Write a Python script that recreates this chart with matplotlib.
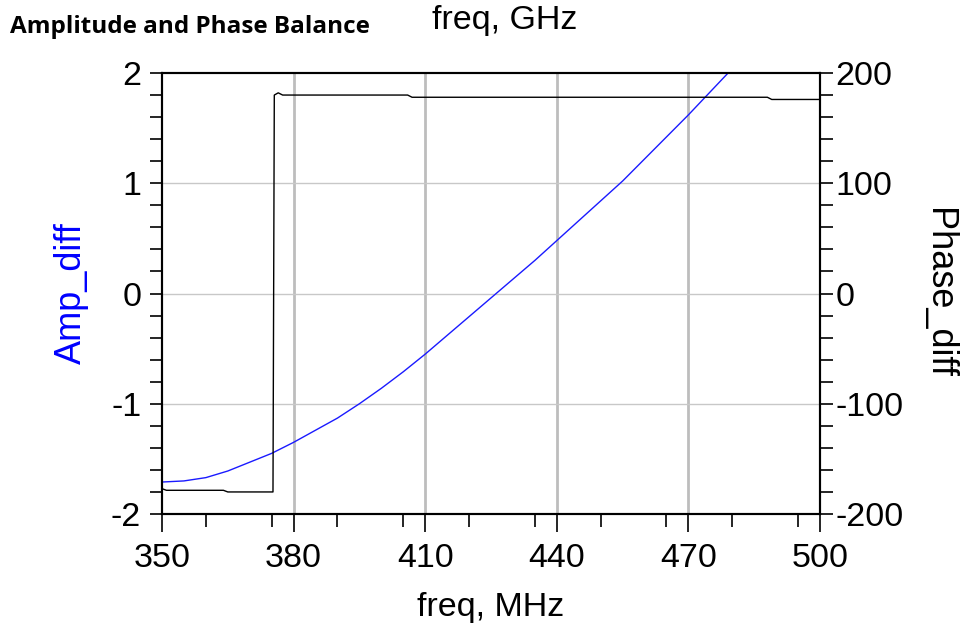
import matplotlib
matplotlib.use("Agg")
import matplotlib.pyplot as plt
from matplotlib.ticker import MultipleLocator

# Amplitude difference (blue, left axis)
amp_freq = [350, 355, 360, 365, 370, 375, 380, 385, 390, 395, 400, 405, 410,
            415, 420, 425, 430, 435, 440, 445, 450, 455, 460, 465, 470, 475, 480]
amp_diff = [-1.71, -1.70, -1.67, -1.61, -1.53, -1.45, -1.35, -1.24, -1.13, -1.00,
            -0.86, -0.71, -0.55, -0.38, -0.21, -0.04, 0.13, 0.30, 0.48, 0.66,
            0.84, 1.02, 1.22, 1.42, 1.62, 1.83, 2.04]

# Phase difference (black, right axis)
ph_freq = [350, 351, 364, 365, 375.3, 375.6, 376.5, 377.5, 406, 407, 488, 489, 500]
ph_diff = [-177, -178.5, -178.5, -180, -180, 180, 182, 180, 180, 178, 178, 176, 176]

x_ticks = [350, 380, 410, 440, 470, 500]
amp_ticks = [-2, -1, 0, 1, 2]
ph_ticks = [-200, -100, 0, 100, 200]

plt.rcParams['font.family'] = ['Liberation Sans', 'DejaVu Sans']

fig = plt.figure(figsize=(9.66, 6.27), dpi=100)
ax = fig.add_axes([162/966, 1-514/627, (820-162)/966, (514-73)/627])
ax2 = ax.twinx()

FS = 24.5
ax.set_xlim(350, 500)
ax.set_ylim(-2, 2)
ax2.set_ylim(-200, 200)

ax.set_xticks(x_ticks)
ax.set_yticks(amp_ticks)
ax2.set_yticks(ph_ticks)
ax.xaxis.set_minor_locator(MultipleLocator(15))
ax.yaxis.set_minor_locator(MultipleLocator(0.2))
ax2.yaxis.set_minor_locator(MultipleLocator(20))

ax.set_xticklabels([str(v) for v in x_ticks], fontsize=FS)
ax.set_yticklabels([str(v) for v in amp_ticks], fontsize=FS)
ax2.set_yticklabels([str(v) for v in ph_ticks], fontsize=FS)

ax.tick_params(axis='x', which='major', direction='out', length=13, width=1.2, pad=8)
ax.tick_params(axis='x', which='minor', direction='out', length=9, width=1.2)
ax.tick_params(axis='y', which='both', direction='out', length=9, width=1.2, pad=6)
ax2.tick_params(axis='y', which='both', direction='out', length=9, width=1.2, pad=2)

for a in (ax, ax2):
    for s in a.spines.values():
        s.set_linewidth(1.5)
        s.set_color('black')

# grid
for xv in x_ticks[1:-1]:
    ax.axvline(xv, color='#bdbdbd', lw=2.0, zorder=0)
for yv in amp_ticks[1:-1]:
    ax.axhline(yv, color='#c8c8c8', lw=1.0, zorder=0)

ax.plot(amp_freq, amp_diff, color='#1a1aff', lw=1.0, zorder=3, clip_on=True)
ax2.plot(ph_freq, ph_diff, color='black', lw=1.0, zorder=3)

ax.set_ylabel('Amp_diff', color='blue', fontsize=26, labelpad=16)
ax2.set_ylabel('Phase_diff', color='black', fontsize=26, rotation=-90, labelpad=38)
ax.set_xlabel('freq, MHz', fontsize=FS, labelpad=13)

fig.text(10/966, 1-27/627, 'Amplitude and Phase Balance', fontsize=17.5,
         fontweight='bold', family=['Open Sans', 'DejaVu Sans'], va='center', ha='left')
fig.text(432/966, 1-21/627, 'freq, GHz', fontsize=FS, va='center', ha='left')

fig.savefig('out.png', dpi=100)
